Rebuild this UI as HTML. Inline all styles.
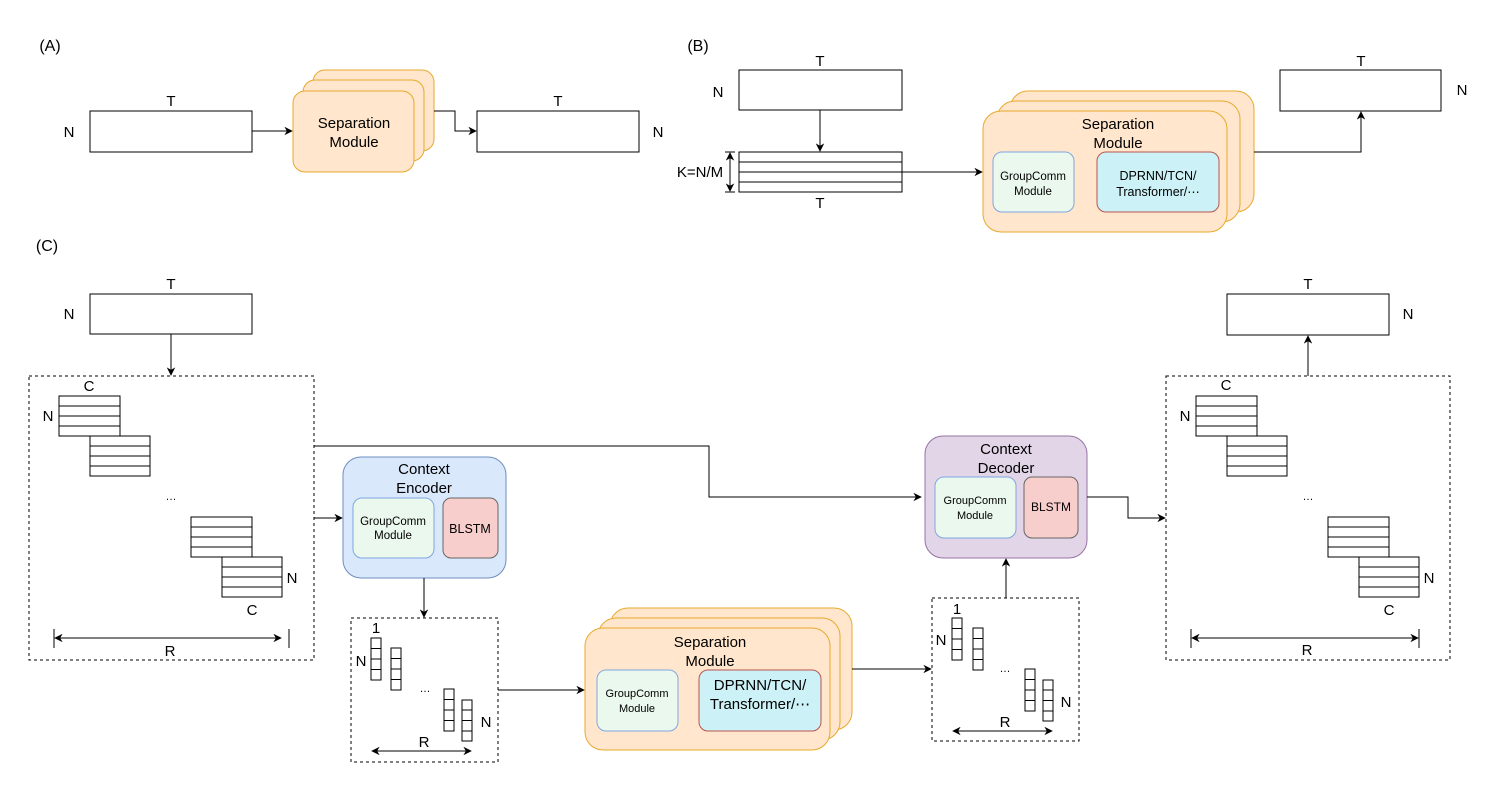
<!DOCTYPE html>
<html><head><meta charset="utf-8"><style>body{margin:0;background:#fff}svg{display:block}text{font-family:"Liberation Sans",Arial,sans-serif;fill:#000}</style></head>
<body>
<svg width="1494" height="785" viewBox="0 0 1494 785" xmlns="http://www.w3.org/2000/svg">
<defs><marker id="a" viewBox="0 0 10 10" refX="9" refY="5" markerWidth="8.5" markerHeight="8.5" orient="auto-start-reverse"><path d="M0,0 L10,5 L0,10 L3,5 z" fill="#000"/></marker></defs>
<g font-size="15" text-anchor="middle" stroke-width="1">
<!-- (A) -->
<text x="50" y="51" font-size="16">(A)</text>
<rect x="90" y="111" width="162" height="41" fill="#fff" stroke="#000"/>
<text x="171" y="106">T</text><text x="69" y="137">N</text>
<line x1="252" y1="131" x2="292" y2="131" stroke="#000" marker-end="url(#a)"/>
<rect x="313" y="70" width="121" height="81" rx="12" fill="#FFE6CC" stroke="#E8A92C"/>
<rect x="303" y="80" width="121" height="81" rx="12" fill="#FFE6CC" stroke="#E8A92C"/>
<rect x="293" y="91" width="121" height="81" rx="12" fill="#FFE6CC" stroke="#E8A92C"/>
<text x="354" y="128">Separation</text><text x="354" y="147">Module</text>
<polyline points="434,111 455,111 455,131 476,131" fill="none" stroke="#000" marker-end="url(#a)"/>
<rect x="477" y="111" width="162" height="41" fill="#fff" stroke="#000"/>
<text x="558" y="106">T</text><text x="658" y="137">N</text>
<!-- (B) -->
<text x="698" y="51" font-size="16">(B)</text>
<rect x="739" y="70" width="163" height="40" fill="#fff" stroke="#000"/>
<text x="820" y="66">T</text><text x="718" y="97">N</text>
<line x1="820" y1="110" x2="820" y2="151" stroke="#000" marker-end="url(#a)"/>
<rect x="739" y="152" width="163" height="40" fill="#fff" stroke="#000"/>
<path d="M739 162H902M739 172H902M739 182H902" stroke="#000"/>
<line x1="730" y1="153" x2="730" y2="191" stroke="#000" marker-start="url(#a)" marker-end="url(#a)"/>
<path d="M725 152H735M725 192H735" stroke="#000"/>
<text x="700" y="177">K=N/M</text>
<text x="820" y="208">T</text>
<line x1="870" y1="172" x2="982" y2="172" stroke="#000" marker-end="url(#a)"/>
<rect x="1010" y="91" width="244" height="121" rx="18" fill="#FFE6CC" stroke="#E8A92C"/>
<rect x="997" y="101" width="243" height="121" rx="18" fill="#FFE6CC" stroke="#E8A92C"/>
<rect x="983" y="111" width="244" height="121" rx="18" fill="#FFE6CC" stroke="#E8A92C"/>
<text x="1118" y="129">Separation</text><text x="1118" y="148">Module</text>
<rect x="993" y="152" width="81" height="60" rx="9" fill="#EAF8EE" stroke="#7EA6E0"/>
<text x="1033" y="180" font-size="11.5">GroupComm</text><text x="1033" y="195" font-size="11.5">Module</text>
<rect x="1097" y="152" width="122" height="60" rx="9" fill="#CCF2F7" stroke="#B85450"/>
<text x="1158" y="180" font-size="12.5">DPRNN/TCN/</text><text x="1158" y="196" font-size="12.5">Transformer/⋯</text>
<polyline points="1254,152 1361,152 1361,112" fill="none" stroke="#000" marker-end="url(#a)"/>
<rect x="1280" y="70" width="161" height="41" fill="#fff" stroke="#000"/>
<text x="1361" y="66">T</text><text x="1462" y="95">N</text>
<!-- (C) -->
<text x="47" y="251" font-size="16">(C)</text>
<rect x="90" y="294" width="162" height="40" fill="#fff" stroke="#000"/>
<text x="171" y="289">T</text><text x="69" y="319">N</text>
<line x1="171" y1="334" x2="171" y2="375" stroke="#000" marker-end="url(#a)"/>
<rect x="29" y="376" width="285" height="284" fill="none" stroke="#000" stroke-dasharray="3,3"/>
<g fill="#fff" stroke="#000">
<rect x="59" y="396" width="61" height="40"/><path d="M59 406H120M59 416H120M59 426H120"/>
<rect x="90" y="436" width="60" height="40"/><path d="M90 446H150M90 456H150M90 466H150"/>
<rect x="191" y="517" width="61" height="40"/><path d="M191 527H252M191 537H252M191 547H252"/>
<rect x="222" y="557" width="60" height="40"/><path d="M222 567H282M222 577H282M222 587H282"/>
</g>
<text x="89" y="391">C</text><text x="48" y="421">N</text><text x="171" y="500" font-size="11">…</text>
<text x="292" y="583">N</text><text x="252" y="615">C</text>
<line x1="55" y1="638" x2="281" y2="638" stroke="#000" marker-start="url(#a)" marker-end="url(#a)"/>
<path d="M54 629V648M289 629V648" stroke="#000"/>
<text x="170" y="656">R</text>
<polyline points="314,446 709,446 709,497 921,497" fill="none" stroke="#000" marker-end="url(#a)"/>
<line x1="314" y1="518" x2="342" y2="518" stroke="#000" marker-end="url(#a)"/>
<rect x="343" y="457" width="163" height="121" rx="18" fill="#DAE8FC" stroke="#6C8EBF"/>
<text x="424" y="474">Context</text><text x="424" y="493">Encoder</text>
<rect x="353" y="498" width="81" height="60" rx="9" fill="#EAF8EE" stroke="#7EA6E0"/>
<text x="393" y="525" font-size="11.5">GroupComm</text><text x="393" y="539" font-size="11.5">Module</text>
<rect x="443" y="498" width="55" height="60" rx="8" fill="#F8CECC" stroke="#666"/>
<text x="470" y="533" font-size="12.5" fill="#333">BLSTM</text>
<line x1="424" y1="578" x2="424" y2="617" stroke="#000" marker-end="url(#a)"/>
<rect x="351" y="618" width="147" height="144" fill="none" stroke="#000" stroke-dasharray="3,3"/>
<g fill="#fff" stroke="#000">
<rect x="371" y="638" width="10" height="42"/><path d="M371 648.5H381M371 659H381M371 669.5H381"/>
<rect x="391" y="648" width="10" height="42"/><path d="M391 658.5H401M391 669H401M391 679.5H401"/>
<rect x="444" y="689" width="10" height="42"/><path d="M444 699.5H454M444 710H454M444 720.5H454"/>
<rect x="462" y="700" width="10" height="41"/><path d="M462 710H472M462 720.5H472M462 731H472"/>
</g>
<text x="376" y="633">1</text><text x="361" y="666">N</text><text x="425" y="692" font-size="11">…</text><text x="486" y="727">N</text><text x="424" y="747">R</text>
<line x1="372" y1="751" x2="471" y2="751" stroke="#000" marker-start="url(#a)" marker-end="url(#a)"/>
<line x1="498" y1="690" x2="584" y2="690" stroke="#000" marker-end="url(#a)"/>
<rect x="610" y="608" width="242" height="122" rx="18" fill="#FFE6CC" stroke="#E8A92C"/>
<rect x="598" y="618" width="242" height="122" rx="18" fill="#FFE6CC" stroke="#E8A92C"/>
<rect x="585" y="628" width="245" height="122" rx="18" fill="#FFE6CC" stroke="#E8A92C"/>
<text x="710" y="647">Separation</text><text x="710" y="666">Module</text>
<rect x="597" y="670" width="81" height="61" rx="9" fill="#EAF8EE" stroke="#7EA6E0"/>
<text x="637" y="697" font-size="11">GroupComm</text><text x="637" y="712" font-size="11">Module</text>
<rect x="699" y="670" width="122" height="61" rx="9" fill="#CCF2F7" stroke="#B85450"/>
<text x="760" y="690">DPRNN/TCN/</text><text x="760" y="709">Transformer/⋯</text>
<line x1="852" y1="669" x2="931" y2="669" stroke="#000" marker-end="url(#a)"/>
<rect x="932" y="598" width="147" height="143" fill="none" stroke="#000" stroke-dasharray="3,3"/>
<g fill="#fff" stroke="#000">
<rect x="952" y="618" width="10" height="42"/><path d="M952 628.5H962M952 639H962M952 649.5H962"/>
<rect x="973" y="628" width="10" height="42"/><path d="M973 638.5H983M973 649H983M973 659.5H983"/>
<rect x="1025" y="669" width="10" height="42"/><path d="M1025 679.5H1035M1025 690H1035M1025 700.5H1035"/>
<rect x="1043" y="680" width="10" height="41"/><path d="M1043 690H1053M1043 700.5H1053M1043 711H1053"/>
</g>
<text x="957" y="614">1</text><text x="941" y="645">N</text><text x="1005" y="672" font-size="11">…</text><text x="1066" y="707">N</text><text x="1005" y="727">R</text>
<line x1="953" y1="731" x2="1052" y2="731" stroke="#000" marker-start="url(#a)" marker-end="url(#a)"/>
<line x1="1006" y1="598" x2="1006" y2="559" stroke="#000" marker-end="url(#a)"/>
<rect x="925" y="436" width="162" height="122" rx="18" fill="#E1D5E7" stroke="#9673A6"/>
<text x="1006" y="454">Context</text><text x="1006" y="473">Decoder</text>
<rect x="935" y="477" width="81" height="61" rx="9" fill="#EAF8EE" stroke="#7EA6E0"/>
<text x="975" y="504" font-size="11">GroupComm</text><text x="975" y="519" font-size="11">Module</text>
<rect x="1024" y="477" width="54" height="61" rx="8" fill="#F8CECC" stroke="#666"/>
<text x="1051" y="511" font-size="12">BLSTM</text>
<polyline points="1087,497 1128,497 1128,518 1165,518" fill="none" stroke="#000" marker-end="url(#a)"/>
<rect x="1166" y="376" width="284" height="284" fill="none" stroke="#000" stroke-dasharray="3,3"/>
<g fill="#fff" stroke="#000">
<rect x="1196" y="396" width="61" height="40"/><path d="M1196 406H1257M1196 416H1257M1196 426H1257"/>
<rect x="1227" y="436" width="60" height="40"/><path d="M1227 446H1287M1227 456H1287M1227 466H1287"/>
<rect x="1328" y="517" width="61" height="40"/><path d="M1328 527H1389M1328 537H1389M1328 547H1389"/>
<rect x="1359" y="557" width="60" height="40"/><path d="M1359 567H1419M1359 577H1419M1359 587H1419"/>
</g>
<text x="1226" y="390">C</text><text x="1185" y="421">N</text><text x="1308" y="500" font-size="11">…</text>
<text x="1429" y="583">N</text><text x="1389" y="615">C</text>
<line x1="1192" y1="638" x2="1418" y2="638" stroke="#000" marker-start="url(#a)" marker-end="url(#a)"/>
<path d="M1191 629V648M1419 629V648" stroke="#000"/>
<text x="1307" y="655">R</text>
<line x1="1308" y1="376" x2="1308" y2="336" stroke="#000" marker-end="url(#a)"/>
<rect x="1227" y="294" width="162" height="41" fill="#fff" stroke="#000"/>
<text x="1308" y="289">T</text><text x="1408" y="319">N</text>
</g>
</svg>
</body></html>
